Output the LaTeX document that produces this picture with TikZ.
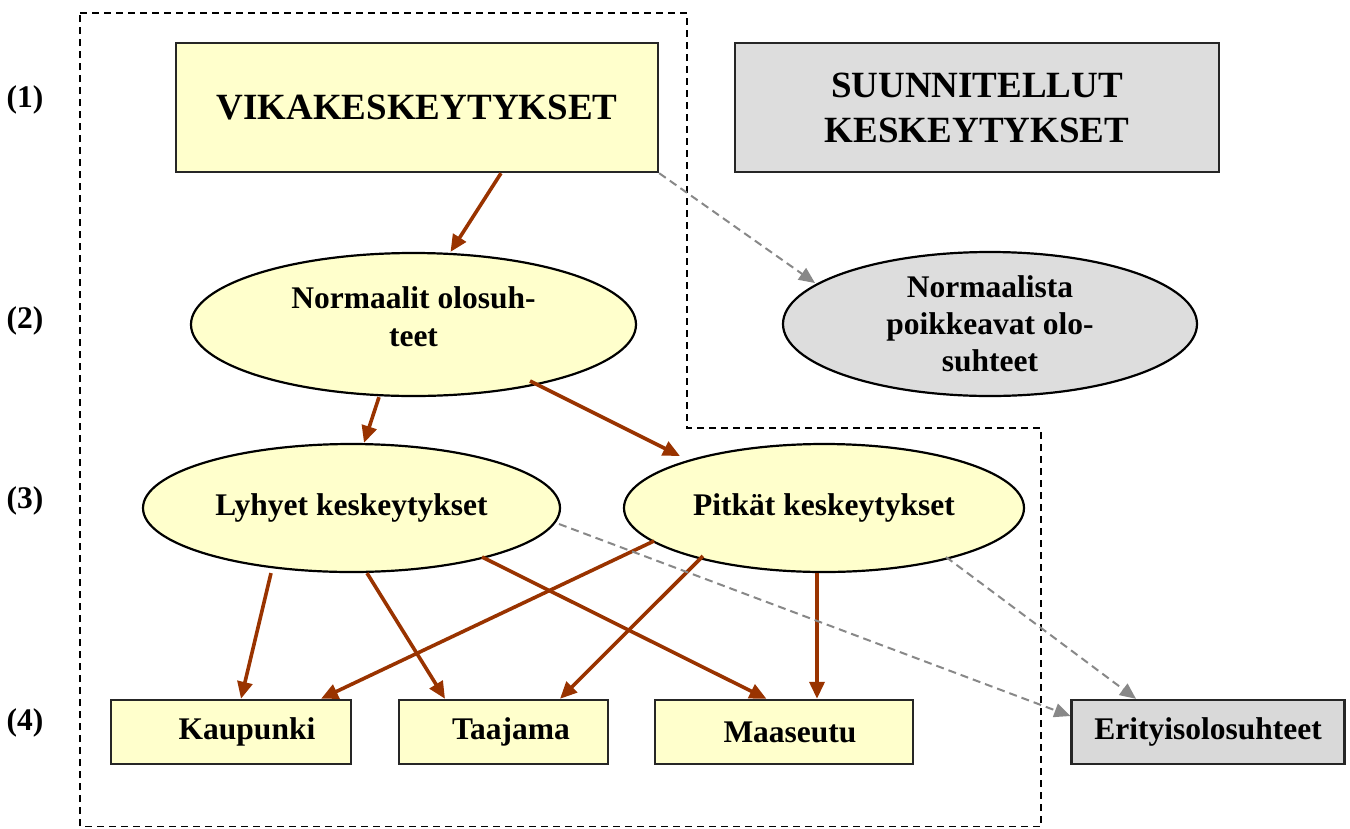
\documentclass[tikz,border=0pt]{standalone}
\usepackage{fontspec}
\setmainfont{Liberation Serif}
\usetikzlibrary{arrows.meta,shapes.geometric}
\definecolor{boxyellow}{HTML}{FFFFCC}
\definecolor{boxgray}{HTML}{DDDDDD}
\definecolor{arrowbrown}{HTML}{993300}
\definecolor{dashgray}{HTML}{888888}
\begin{document}
\begin{tikzpicture}[x=1pt,y=-1pt,
  every node/.style={font=\bfseries},
  big/.style={font=\bfseries\fontsize{37}{45}\selectfont},
  mid/.style={font=\bfseries\fontsize{31.5}{38}\selectfont},
  ybox/.style={rectangle, draw=black!85, line width=2.4pt, fill=boxyellow, inner sep=0pt, mid},
  gbox/.style={rectangle, draw=black!85, line width=2.4pt, fill=boxgray, inner sep=0pt, mid},
  yell/.style={ellipse, draw=black, line width=2.2pt, fill=boxyellow, inner sep=0pt, mid, align=center},
  gell/.style={ellipse, draw=black, line width=2.2pt, fill=boxgray, inner sep=0pt, mid, align=center},
  brarrow/.style={draw=arrowbrown, line width=3.6pt, -{Triangle[length=17pt,width=15pt]}},
  grarrow/.style={draw=dashgray, line width=2pt, dash pattern=on 8pt off 5pt, -{Triangle[length=16pt,width=14pt]}},
  outline/.style={draw=black, line width=1.6pt, dash pattern=on 7pt off 5pt},
  rowlabel/.style={mid, anchor=base},
]
\useasboundingbox (0,0) rectangle (1350,828);

\draw[outline] (80,13) -- (687,13) -- (687,428) -- (1041,428) -- (1041,826.5) -- (80,826.5) -- cycle;

% row labels
\node[rowlabel] (l1) at (25,107) {(1)};
\node[rowlabel] (l2) at (25,328) {(2)};
\node[rowlabel] (l3) at (25,508) {(3)};
\node[rowlabel] (l4) at (25,730) {(4)};

% level 1
\node[ybox, big, minimum width=482, minimum height=129] (vika) at (417,107.5) {VIKAKESKEYTYKSET};
\node[gbox, big, minimum width=484, minimum height=129, align=center] (suun) at (977,107.5) {SUUNNITELLUT\\KESKEYTYKSET};

% level 2
\node[yell, minimum width=445, minimum height=143] (norm) at (413.5,324.5) {};
\node[mid, align=center] (normtxt) at (413.5,317) {Normaalit olosuh-\\teet};
\node[gell, minimum width=414, minimum height=144, font=\bfseries\fontsize{31.5}{37}\selectfont] (npk) at (990,324) {Normaalista\\poikkeavat olo-\\suhteet};

% level 3
\node[yell, minimum width=417, minimum height=128] (lyh) at (351.5,508) {Lyhyet keskeytykset};
\node[yell, minimum width=400, minimum height=128] (pit) at (824,508) {Pitkät keskeytykset};

% level 4
\node[ybox, minimum width=240, minimum height=64] (kau) at (231,732) {\hspace*{32pt}Kaupunki};
\node[ybox, minimum width=209, minimum height=64] (taa) at (503.5,732) {\hspace*{15pt}Taajama};
\node[ybox, minimum width=258, minimum height=64] (maa) at (784,732) {\hspace*{12pt}Maaseutu};
\node[gbox, minimum width=273, minimum height=64, fill=black!15] (eri) at (1208,732) {Erityisolosuhteet};

% brown arrows
\draw[brarrow] ([xshift=84pt]vika.south) -- ([xshift=37pt]norm.north);
\draw[brarrow] ([xshift=-34.5pt]norm.south) -- ([xshift=12.5pt]lyh.north);
\draw[brarrow] ([xshift=116.5pt,yshift=-56.5pt]norm.center) -- ([xshift=-144pt,yshift=52pt]pit.center);
\draw[brarrow] ([xshift=-80.5pt]lyh.south) -- ([xshift=10pt]kau.north);
\draw[brarrow] ([xshift=15.5pt]lyh.south) -- ([xshift=-58.5pt]taa.north);
\draw[brarrow] ([xshift=130.5pt,yshift=-49pt]lyh.center) -- ([xshift=-17.5pt]maa.north);
\draw[brarrow] ([xshift=-170pt,yshift=-33pt]pit.center) -- ([xshift=90pt]kau.north);
\draw[brarrow] ([xshift=-121pt,yshift=-48pt]pit.center) -- ([xshift=56.5pt]taa.north);
\draw[brarrow] ([xshift=-7pt]pit.south) -- ([xshift=33pt]maa.north);

% gray dashed arrows
\draw[grarrow] (vika.south east) -- ([xshift=-175pt,yshift=41pt]npk.center);
\draw[grarrow] ([xshift=207.5pt,yshift=-16pt]lyh.center) -- ([yshift=16pt]eri.west);
\draw[grarrow] ([xshift=122pt,yshift=-49pt]pit.center) -- ([xshift=-72pt]eri.north);
\end{tikzpicture}
\end{document}
